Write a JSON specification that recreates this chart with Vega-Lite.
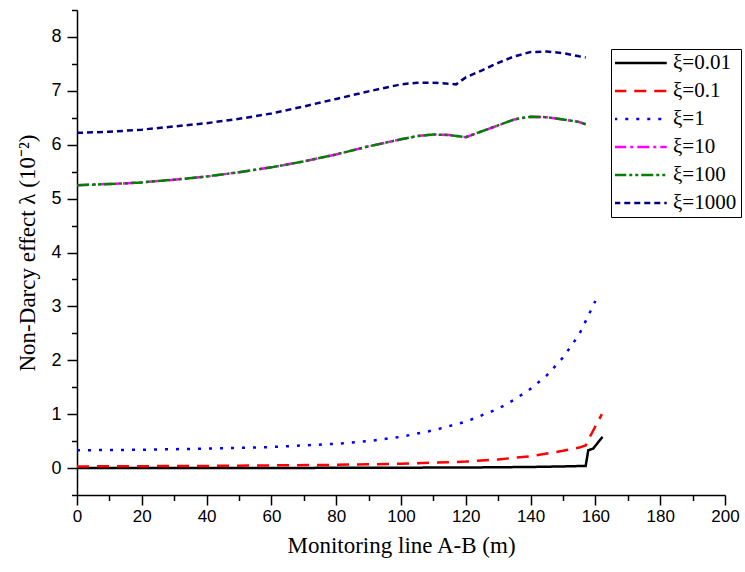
{
  "$schema": "https://vega.github.io/schema/vega-lite/v6.json",
  "width": 648,
  "height": 485,
  "autosize": {"type": "none"},
  "padding": {"left": 77, "top": 10, "right": 20, "bottom": 77},
  "background": "white",
  "config": {
    "view": {"stroke": null},
    "axis": {
      "domainColor": "black", "domainWidth": 1.5,
      "tickColor": "black", "tickWidth": 1.5,
      "labelFont": "Liberation Sans", "labelFontSize": 17, "labelColor": "black",
      "titleFont": "Liberation Serif", "titleFontSize": 23, "titleFontWeight": "normal", "titleColor": "black",
      "grid": false, "labelOverlap": false, "labelFlush": false
    }
  },
  "data": {"values": [
    {"xi":"ξ=0.01","x":0,"y":0.0},{"xi":"ξ=0.01","x":40,"y":0.0},{"xi":"ξ=0.01","x":80,"y":0.004},{"xi":"ξ=0.01","x":120,"y":0.01},{"xi":"ξ=0.01","x":140,"y":0.02},{"xi":"ξ=0.01","x":150,"y":0.03},{"xi":"ξ=0.01","x":157,"y":0.04},{"xi":"ξ=0.01","x":157.8,"y":0.33},{"xi":"ξ=0.01","x":159.3,"y":0.36},{"xi":"ξ=0.01","x":162.2,"y":0.58},
    {"xi":"ξ=0.1","x":0,"y":0.03},{"xi":"ξ=0.1","x":20,"y":0.035},{"xi":"ξ=0.1","x":40,"y":0.04},{"xi":"ξ=0.1","x":60,"y":0.05},{"xi":"ξ=0.1","x":80,"y":0.06},{"xi":"ξ=0.1","x":100,"y":0.08},{"xi":"ξ=0.1","x":110,"y":0.1},{"xi":"ξ=0.1","x":120,"y":0.12},{"xi":"ξ=0.1","x":130,"y":0.16},{"xi":"ξ=0.1","x":140,"y":0.22},{"xi":"ξ=0.1","x":145,"y":0.27},{"xi":"ξ=0.1","x":150,"y":0.32},{"xi":"ξ=0.1","x":155,"y":0.38},{"xi":"ξ=0.1","x":157,"y":0.42},{"xi":"ξ=0.1","x":159,"y":0.66},{"xi":"ξ=0.1","x":162,"y":1.0},
    {"xi":"ξ=1","x":0,"y":0.33},{"xi":"ξ=1","x":20,"y":0.34},{"xi":"ξ=1","x":40,"y":0.36},{"xi":"ξ=1","x":60,"y":0.39},{"xi":"ξ=1","x":80,"y":0.45},{"xi":"ξ=1","x":90,"y":0.5},{"xi":"ξ=1","x":100,"y":0.58},{"xi":"ξ=1","x":110,"y":0.7},{"xi":"ξ=1","x":120,"y":0.86},{"xi":"ξ=1","x":130,"y":1.1},{"xi":"ξ=1","x":135,"y":1.27},{"xi":"ξ=1","x":140,"y":1.47},{"xi":"ξ=1","x":145,"y":1.72},{"xi":"ξ=1","x":150,"y":2.05},{"xi":"ξ=1","x":155,"y":2.48},{"xi":"ξ=1","x":160,"y":3.1},
    {"xi":"ξ=10","x":0,"y":5.25},{"xi":"ξ=10","x":10,"y":5.27},{"xi":"ξ=10","x":20,"y":5.3},{"xi":"ξ=10","x":30,"y":5.35},{"xi":"ξ=10","x":40,"y":5.41},{"xi":"ξ=10","x":50,"y":5.49},{"xi":"ξ=10","x":60,"y":5.58},{"xi":"ξ=10","x":70,"y":5.69},{"xi":"ξ=10","x":80,"y":5.82},{"xi":"ξ=10","x":90,"y":5.97},{"xi":"ξ=10","x":100,"y":6.1},{"xi":"ξ=10","x":105,"y":6.16},{"xi":"ξ=10","x":110,"y":6.19},{"xi":"ξ=10","x":115,"y":6.18},{"xi":"ξ=10","x":120,"y":6.14},{"xi":"ξ=10","x":125,"y":6.25},{"xi":"ξ=10","x":130,"y":6.36},{"xi":"ξ=10","x":135,"y":6.47},{"xi":"ξ=10","x":140,"y":6.52},{"xi":"ξ=10","x":145,"y":6.51},{"xi":"ξ=10","x":150,"y":6.47},{"xi":"ξ=10","x":155,"y":6.42},{"xi":"ξ=10","x":157,"y":6.38},
    {"xi":"ξ=100","x":0,"y":5.25},{"xi":"ξ=100","x":10,"y":5.27},{"xi":"ξ=100","x":20,"y":5.3},{"xi":"ξ=100","x":30,"y":5.35},{"xi":"ξ=100","x":40,"y":5.41},{"xi":"ξ=100","x":50,"y":5.49},{"xi":"ξ=100","x":60,"y":5.58},{"xi":"ξ=100","x":70,"y":5.69},{"xi":"ξ=100","x":80,"y":5.82},{"xi":"ξ=100","x":90,"y":5.97},{"xi":"ξ=100","x":100,"y":6.1},{"xi":"ξ=100","x":105,"y":6.16},{"xi":"ξ=100","x":110,"y":6.19},{"xi":"ξ=100","x":115,"y":6.18},{"xi":"ξ=100","x":120,"y":6.14},{"xi":"ξ=100","x":125,"y":6.25},{"xi":"ξ=100","x":130,"y":6.36},{"xi":"ξ=100","x":135,"y":6.47},{"xi":"ξ=100","x":140,"y":6.52},{"xi":"ξ=100","x":145,"y":6.51},{"xi":"ξ=100","x":150,"y":6.47},{"xi":"ξ=100","x":155,"y":6.42},{"xi":"ξ=100","x":157,"y":6.38},
    {"xi":"ξ=1000","x":0,"y":6.22},{"xi":"ξ=1000","x":10,"y":6.24},{"xi":"ξ=1000","x":20,"y":6.28},{"xi":"ξ=1000","x":30,"y":6.34},{"xi":"ξ=1000","x":40,"y":6.4},{"xi":"ξ=1000","x":50,"y":6.48},{"xi":"ξ=1000","x":60,"y":6.58},{"xi":"ξ=1000","x":70,"y":6.71},{"xi":"ξ=1000","x":80,"y":6.85},{"xi":"ξ=1000","x":90,"y":6.99},{"xi":"ξ=1000","x":100,"y":7.12},{"xi":"ξ=1000","x":105,"y":7.15},{"xi":"ξ=1000","x":110,"y":7.15},{"xi":"ξ=1000","x":115,"y":7.13},{"xi":"ξ=1000","x":117,"y":7.12},{"xi":"ξ=1000","x":120,"y":7.25},{"xi":"ξ=1000","x":125,"y":7.38},{"xi":"ξ=1000","x":130,"y":7.52},{"xi":"ξ=1000","x":135,"y":7.64},{"xi":"ξ=1000","x":140,"y":7.72},{"xi":"ξ=1000","x":145,"y":7.73},{"xi":"ξ=1000","x":150,"y":7.7},{"xi":"ξ=1000","x":155,"y":7.64},{"xi":"ξ=1000","x":157,"y":7.62}
  ]},
  "resolve": {"axis": {"x": "independent", "y": "independent"}},
  "layer": [
    {
      "mark": {"type": "line", "strokeOpacity": 0},
      "encoding": {
        "x": {
          "field": "x", "type": "quantitative",
          "scale": {"domain": [0, 200], "nice": false},
          "axis": {
            "orient": "bottom", "title": null, "labels": false, "domain": false,
            "values": [10,30,50,70,90,110,130,150,170,190], "tickSize": 5.5
          }
        },
        "y": {
          "field": "y", "type": "quantitative",
          "scale": {"domain": [-0.5, 8.5], "nice": false, "zero": false},
          "axis": {
            "orient": "left", "title": null, "labels": false, "domain": false,
            "values": [-0.5,0.5,1.5,2.5,3.5,4.5,5.5,6.5,7.5,8.5], "tickSize": 5.5
          }
        },
        "detail": {"field": "xi"}
      }
    },
    {
      "mark": {"type": "line", "strokeWidth": 2.5, "clip": true},
      "encoding": {
        "x": {
          "field": "x", "type": "quantitative",
          "scale": {"domain": [0, 200], "nice": false},
          "axis": {
            "orient": "bottom",
            "title": "Monitoring line A-B (m)",
            "values": [0,20,40,60,80,100,120,140,160,180,200],
            "format": "d", "tickSize": 10,
            "labelPadding": 3,
            "titlePadding": 10
          }
        },
        "y": {
          "field": "y", "type": "quantitative",
          "scale": {"domain": [-0.5, 8.5], "nice": false, "zero": false},
          "axis": {
            "orient": "left",
            "title": "Non-Darcy effect λ (10⁻²)",
            "values": [0,1,2,3,4,5,6,7,8],
            "format": "d", "tickSize": 10, "labelFontSize": 18,
            "labelPadding": 6,
            "titlePadding": 11
          }
        },
        "color": {
          "field": "xi", "type": "nominal",
          "scale": {
            "domain": ["ξ=0.01","ξ=0.1","ξ=1","ξ=10","ξ=100","ξ=1000"],
            "range": ["#000000","#FF0000","#0000FF","#FF00FF","#008000","#000080"]
          },
          "legend": {
            "title": null, "orient": "none", "legendX": 534, "legendY": 39,
            "strokeColor": "black", "padding": 4,
            "symbolType": "M-5,0H5", "symbolSize": 110, "symbolStrokeWidth": 2.5, "symbolOffset": 15,
            "labelFont": "Liberation Serif", "labelFontSize": 21, "labelColor": "black",
            "labelOffset": 22, "rowPadding": 7, "clipHeight": 20, "symbolOpacity": 1
          }
        },
        "strokeDash": {
          "field": "xi", "type": "nominal",
          "scale": {
            "domain": ["ξ=0.01","ξ=0.1","ξ=1","ξ=10","ξ=100","ξ=1000"],
            "range": [[1,0],[12,8],[3,8],[12,4,3,4],[12,3,3,3,3,3],[6,4]]
          },
          "legend": {
            "title": null, "orient": "none", "legendX": 534, "legendY": 39,
            "strokeColor": "black", "padding": 4,
            "symbolType": "M-5,0H5", "symbolSize": 110, "symbolStrokeWidth": 2.5, "symbolOffset": 15,
            "labelFont": "Liberation Serif", "labelFontSize": 21, "labelColor": "black",
            "labelOffset": 22, "rowPadding": 7, "clipHeight": 20, "symbolOpacity": 1
          }
        }
      }
    }
  ]
}
